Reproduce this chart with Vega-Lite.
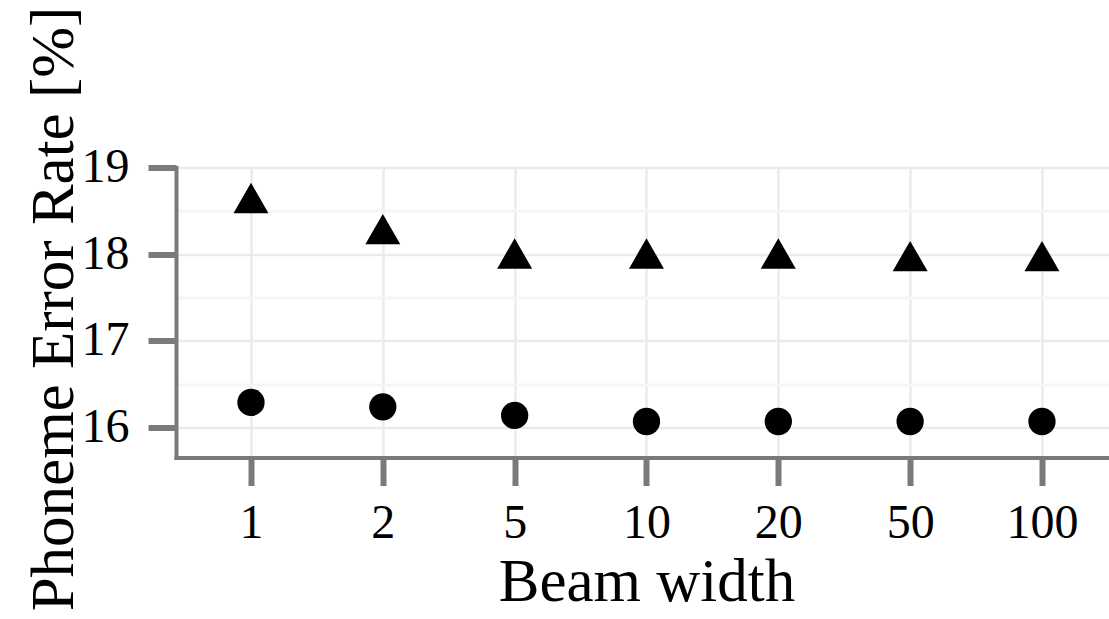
{
  "$schema": "https://vega.github.io/schema/vega-lite/v6.json",
  "width": 933,
  "height": 290,
  "autosize": {"type": "none"},
  "padding": {"left": 176, "top": 167.5, "right": 0, "bottom": 161.5},
  "background": "white",
  "config": {"view": {"stroke": null}, "font": "Liberation Serif"},
  "data": {
    "values": [
      {"beam": "1", "series": "A", "per": 18.59},
      {"beam": "2", "series": "A", "per": 18.23},
      {"beam": "5", "series": "A", "per": 17.95},
      {"beam": "10", "series": "A", "per": 17.95},
      {"beam": "20", "series": "A", "per": 17.95},
      {"beam": "50", "series": "A", "per": 17.92},
      {"beam": "100", "series": "A", "per": 17.92},
      {"beam": "1", "series": "B", "per": 16.29},
      {"beam": "2", "series": "B", "per": 16.24},
      {"beam": "5", "series": "B", "per": 16.14},
      {"beam": "10", "series": "B", "per": 16.07},
      {"beam": "20", "series": "B", "per": 16.07},
      {"beam": "50", "series": "B", "per": 16.07},
      {"beam": "100", "series": "B", "per": 16.07}
    ]
  },
  "encoding": {
    "x": {
      "field": "beam",
      "type": "ordinal",
      "sort": ["1", "2", "5", "10", "20", "50", "100"],
      "scale": {"type": "point", "padding": 0.5386, "align": 0.528},
      "axis": {
        "title": "Beam width",
        "titleFont": "Liberation Serif",
        "titleFontSize": 61,
        "titleFontWeight": "normal",
        "titleColor": "black",
        "titleX": 470.5,
        "titleY": 142.5,
        "titleBaseline": "alphabetic",
        "titleAlign": "center",
        "labelFont": "Liberation Serif",
        "labelFontSize": 48,
        "labelColor": "black",
        "labelPadding": 14,
        "labelAngle": 0,
        "tickSize": 28,
        "tickWidth": 6,
        "tickColor": "#7a7a7a",
        "domainColor": "#7a7a7a",
        "domainWidth": 4,
        "domainCap": "square",
        "grid": true,
        "gridColor": "#ebebeb",
        "gridWidth": 2.5
      }
    },
    "y": {
      "field": "per",
      "type": "quantitative",
      "scale": {"domain": [15.655, 19], "nice": false, "zero": false},
      "axis": {
        "values": [16, 16.5, 17, 17.5, 18, 18.5, 19],
        "labelExpr": "datum.value % 1 === 0 ? format(datum.value, 'd') : ''",
        "title": "Phoneme Error Rate [%]",
        "titleFont": "Liberation Serif",
        "titleFontSize": 61,
        "titleFontWeight": "normal",
        "titleColor": "black",
        "titleAngle": -90,
        "titleX": -104,
        "titleY": 141,
        "titleBaseline": "alphabetic",
        "titleAlign": "center",
        "labelFont": "Liberation Serif",
        "labelFontSize": 48,
        "labelColor": "black",
        "labelPadding": 19,
        "tickSize": 28,
        "tickWidth": 6,
        "tickColor": "#7a7a7a",
        "tickOpacity": {"condition": {"test": "datum.value % 1 !== 0", "value": 0}, "value": 1},
        "domainColor": "#7a7a7a",
        "domainWidth": 4,
        "domainCap": "square",
        "grid": true,
        "gridColor": {"condition": {"test": "datum.value % 1 !== 0", "value": "#f5f5f5"}, "value": "#ebebeb"},
        "gridWidth": {"condition": {"test": "datum.value % 1 !== 0", "value": 3}, "value": 2.5}
      }
    }
  },
  "layer": [
    {
      "data": {"values": [{}]},
      "mark": {"type": "rule", "color": "#7a7a7a", "strokeWidth": 4},
      "encoding": {"x": null, "y": {"datum": 19, "type": "quantitative"}}
    },
    {
      "transform": [{"filter": "datum.series === 'A'"}],
      "mark": {"type": "point", "filled": true, "opacity": 1, "color": "black", "shape": "M0,-1.155L1,0.577L-1,0.577Z", "size": 1225}
    },
    {
      "transform": [{"filter": "datum.series === 'B'"}],
      "mark": {"type": "point", "filled": true, "opacity": 1, "color": "black", "shape": "circle", "size": 745}
    }
  ]
}
